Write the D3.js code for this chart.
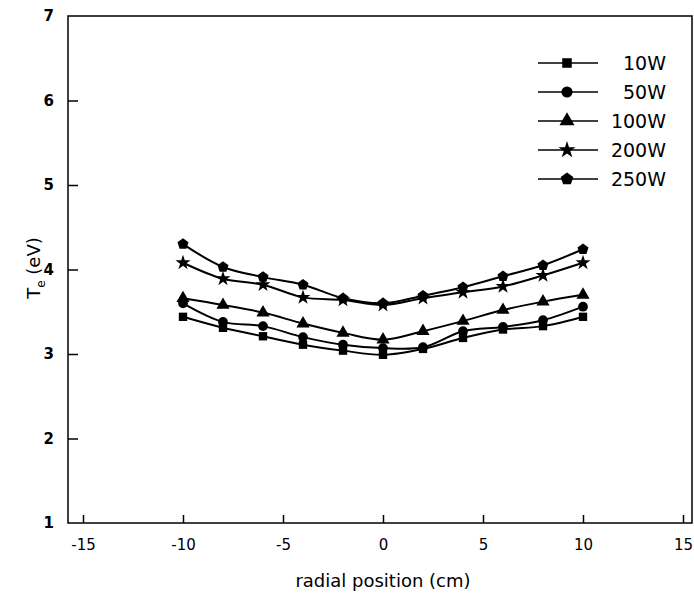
<!DOCTYPE html>
<html>
<head>
<meta charset="utf-8">
<script src="https://cdn.jsdelivr.net/npm/d3@7"></script>
<style>
  body { margin: 0; background: #fff; }
  svg { font-family: "DejaVu Sans", Verdana, sans-serif; }
</style>
</head>
<body>
<svg id="chart" width="694" height="601"></svg>
<script>
// radial positions (cm)
const POSITIONS = [-10, -8, -6, -4, -2, 0, 2, 4, 6, 8, 10]
const SERIES = ['10W', '50W', '100W', '200W', '250W']
// electron temperature Te (eV)
const TE_10W  = [3.44, 3.31, 3.21, 3.11, 3.04, 2.99, 3.06, 3.19, 3.29, 3.33, 3.44]
const TE_50W  = [3.60, 3.38, 3.33, 3.20, 3.11, 3.07, 3.08, 3.27, 3.32, 3.40, 3.56]
const TE_100W = [3.66, 3.58, 3.49, 3.36, 3.25, 3.17, 3.27, 3.39, 3.52, 3.62, 3.70]
const TE_200W = [4.08, 3.89, 3.82, 3.67, 3.64, 3.58, 3.66, 3.73, 3.80, 3.93, 4.08]
const TE_250W = [4.30, 4.03, 3.91, 3.82, 3.66, 3.60, 3.69, 3.79, 3.92, 4.05, 4.24]
const X_TICKS = [-15, -10, -5, 0, 5, 10, 15]
const Y_TICKS = [1, 2, 3, 4, 5, 6, 7]

const VALUES = [TE_10W, TE_50W, TE_100W, TE_200W, TE_250W]

// pentagon isn't in d3's symbol set
const symbolPentagon = {
  draw(ctx, size){
    const r = Math.sqrt(size / 2.378)
    for(let i = 0; i < 5; i++){
      const a = -Math.PI / 2 + i * 2 * Math.PI / 5
      const px = r * Math.cos(a), py = r * Math.sin(a)
      if(i == 0) ctx.moveTo(px, py)
      else ctx.lineTo(px, py)
    }
    ctx.closePath()
  }
}
const SYMBOLS = {
  '10W':  {type: d3.symbolSquare,   size: 70},
  '50W':  {type: d3.symbolCircle,   size: 75},
  '100W': {type: d3.symbolTriangle, size: 75},
  '200W': {type: d3.symbolStar,     size: 70},
  '250W': {type: symbolPentagon,    size: 80},
}

const svg = d3.select('#chart')
const plotLeft = 68, plotRight = 692, plotTop = 16, plotBottom = 523

const x = d3.scaleLinear().domain([-15.75, 15.45]).range([plotLeft, plotRight])
const y = d3.scaleLinear().domain([1, 7]).range([plotBottom, plotTop])

// frame
svg.append('rect')
  .attr('x', plotLeft).attr('y', plotTop)
  .attr('width', plotRight - plotLeft).attr('height', plotBottom - plotTop)
  .attr('fill', 'none').attr('stroke', '#000').attr('stroke-width', 1.5)

// axes with inward ticks, plain hyphen for negatives
const xAxis = d3.axisBottom(x).tickValues(X_TICKS).tickSize(-8).tickPadding(16)
  .tickFormat(d => String(d))
const gx = svg.append('g').attr('transform', 'translate(0,' + plotBottom + ')').call(xAxis)
const yAxis = d3.axisLeft(y).tickValues(Y_TICKS).tickSize(-10).tickPadding(14)
  .tickFormat(d => String(d))
const gy = svg.append('g').attr('transform', 'translate(' + plotLeft + ',0)').call(yAxis)

for(const g of [gx, gy]){
  g.select('.domain').remove()
  g.selectAll('.tick line').attr('stroke', '#000').attr('stroke-width', 1.5)
  g.selectAll('.tick text').attr('fill', '#000').attr('font-size', 15).attr('font-weight', 'bold')
    .attr('font-family', 'Verdana, "DejaVu Sans", sans-serif')
}
gx.selectAll('.tick text').attr('font-weight', 'normal').attr('font-size', 15)
gy.selectAll('.tick').filter(d => d == 1 || d == 7).select('line').remove()

// axis titles
svg.append('text')
  .attr('x', 383).attr('y', 587)
  .attr('text-anchor', 'middle')
  .attr('font-size', 18)
  .attr('fill', '#000')
  .text('radial position (cm)')

const ylab = svg.append('text')
  .attr('transform', 'translate(40,' + 268 + ') rotate(-90)')
  .attr('text-anchor', 'middle')
  .attr('font-size', 18)
  .attr('fill', '#000')
ylab.append('tspan').text('T')
ylab.append('tspan').attr('font-size', 12).attr('dy', 5).text('e')
ylab.append('tspan').attr('dy', -5).text(' (eV)')

// series
const line = d3.line()
  .x(d => x(d.pos))
  .y(d => y(d.te))
  .curve(d3.curveCatmullRom.alpha(0.5))

SERIES.forEach((name, i) => {
  const data = POSITIONS.map((p, j) => ({pos: p, te: VALUES[i][j]}))
  const g = svg.append('g').attr('class', 'series series-' + name)
  g.append('path')
    .datum(data)
    .attr('fill', 'none')
    .attr('stroke', '#000')
    .attr('stroke-width', 2)
    .attr('d', line)
  const sym = d3.symbol().type(SYMBOLS[name].type).size(SYMBOLS[name].size)
  g.selectAll('path.mark').data(data)
    .enter().append('path')
      .attr('class', 'mark')
      .attr('transform', d => 'translate(' + x(d.pos) + ',' + y(d.te) + ')')
      .attr('d', sym)
      .attr('fill', '#000')
})

// legend
const legend = svg.append('g').attr('class', 'legend')
const legendY = d3.scalePoint().domain(SERIES).range([63, 179])
SERIES.forEach(name => {
  const ly = legendY(name)
  legend.append('line')
    .attr('x1', 538).attr('x2', 598)
    .attr('y1', ly).attr('y2', ly)
    .attr('stroke', '#000').attr('stroke-width', 1.5)
  legend.append('path')
    .attr('transform', 'translate(567,' + ly + ')')
    .attr('d', d3.symbol().type(SYMBOLS[name].type).size(SYMBOLS[name].size * 1.3))
    .attr('fill', '#000')
  legend.append('text')
    .attr('x', 666).attr('y', ly + 7)
    .attr('text-anchor', 'end')
    .attr('font-size', 19)
    .attr('fill', '#000')
    .text(name)
})
</script>
</body>
</html>
